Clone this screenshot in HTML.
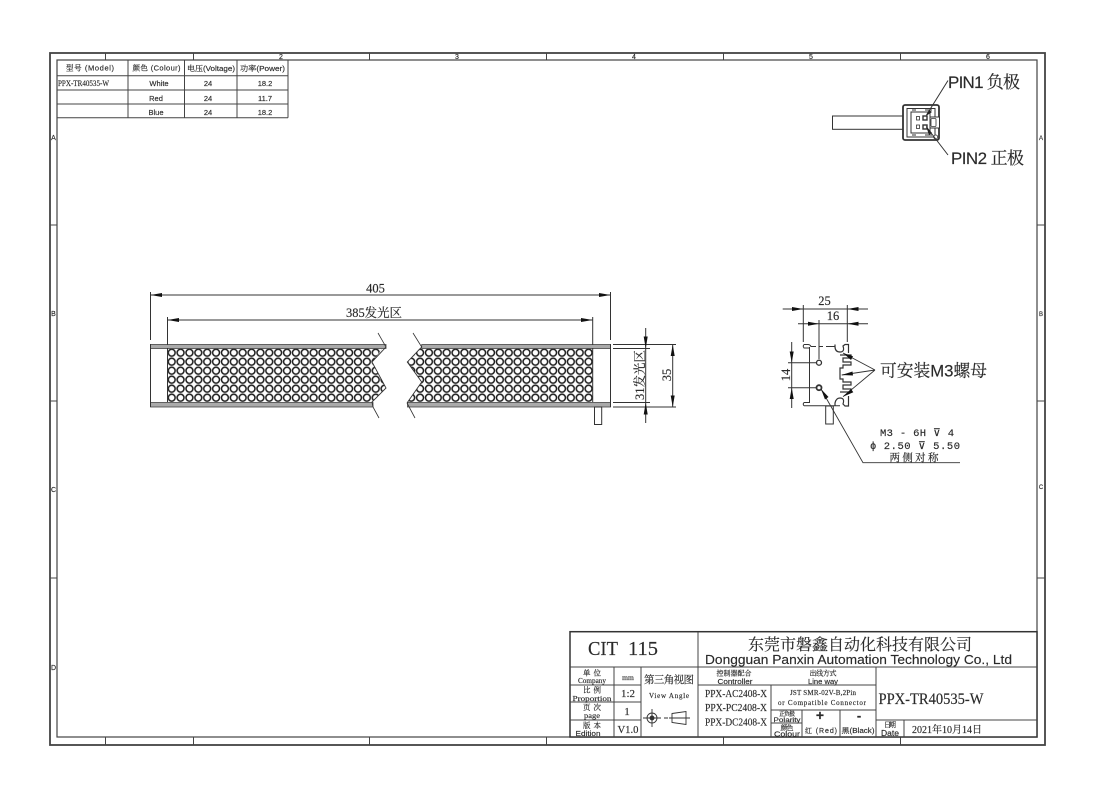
<!DOCTYPE html>
<html><head><meta charset="utf-8"><style>
html,body{margin:0;padding:0;background:#fff;width:1095px;height:799px;overflow:hidden}
svg{display:block;filter:blur(.3px)}
text{fill:#2a2a2a;stroke:#2a2a2a;stroke-width:.15}
.s{font-family:"Liberation Sans","Noto Serif CJK SC",sans-serif}
.f{font-family:"Liberation Serif","Noto Serif CJK SC",serif}
.m{font-family:"Liberation Mono","Noto Serif CJK SC",monospace}
</style></head><body>
<svg width="1095" height="799" viewBox="0 0 1095 799" xmlns="http://www.w3.org/2000/svg">
<defs>
<pattern id="p" x="167.27" y="348.2" width="8.87" height="9" patternUnits="userSpaceOnUse">
<rect width="8.87" height="9" fill="#fff"/>
<circle cx="4.43" cy="4.5" r="3.45" fill="#fff" stroke="#1c1c1c" stroke-width="1.5"/>
</pattern>
</defs>
<rect width="1095" height="799" fill="#fff"/>

<!-- Frame -->
<g fill="none" stroke="#444">
<rect x="50" y="53" width="995" height="692" stroke-width="1.8"/>
<rect x="57" y="60" width="980" height="677" stroke-width="1.2"/>
<path stroke-width="1" d="M105.5 53V60M193.5 53V60M369.5 53V60M546.5 53V60M723.5 53V60M900.5 53V60M105.5 737V745M193.5 737V745M369.5 737V745M546.5 737V745M723.5 737V745M900.5 737V745M50 225H57M50 401H57M50 578H57M1037 225H1045M1037 401H1045M1037 578H1045"/>
</g>
<g class="s" font-size="7" text-anchor="middle">
<text x="281" y="59">2</text><text x="457" y="59">3</text><text x="634" y="59">4</text><text x="811" y="59">5</text><text x="988" y="59">6</text>
<text x="53.5" y="140">A</text><text x="53.5" y="316">B</text><text x="53.5" y="492">C</text><text x="53.5" y="670">D</text>
<text x="1041" y="140" font-size="6">A</text><text x="1041" y="316" font-size="6">B</text><text x="1041" y="489" font-size="6">C</text>
</g>

<!-- Spec table -->
<g fill="none" stroke="#444" stroke-width="1">
<path d="M57 75.7H288M57 90H288M57 104H288M57 117.7H288M128 60V117.7M184.5 60V117.7M237 60V117.7M288 60V117.7"/>
</g>
<g class="s" font-size="7.5" text-anchor="middle">
<text x="90" y="70.5" textLength="48" lengthAdjust="spacing">型号 (Model)</text>
<text x="156.5" y="70.5" textLength="48" lengthAdjust="spacing">颜色 (Colour)</text>
<text x="211" y="71" textLength="48" lengthAdjust="spacingAndGlyphs">电压(Voltage)</text>
<text x="262.5" y="71" textLength="45" lengthAdjust="spacingAndGlyphs">功率(Power)</text>
<text x="159" y="86">White</text><text x="156" y="101">Red</text><text x="156" y="115">Blue</text>
<text x="208" y="86">24</text><text x="208" y="101">24</text><text x="208" y="115">24</text>
<text x="265" y="86">18.2</text><text x="265" y="101">11.7</text><text x="265" y="115">18.2</text>
</g>
<text class="f" x="58" y="86" font-size="8.5" textLength="51" lengthAdjust="spacingAndGlyphs">PPX-TR40535-W</text>

<!-- Connector -->
<g fill="none" stroke="#333">
<rect x="832.5" y="116" width="70.5" height="13.3" stroke-width="1"/>
<rect x="903" y="105" width="36" height="35" rx="2" stroke-width="1.8" fill="#fff"/>
<rect x="907" y="108.5" width="28" height="28.5" stroke-width="1"/>
<rect x="911" y="112" width="19" height="21" stroke-width="1"/>
<rect x="930" y="117" width="9.5" height="11" stroke-width="1" fill="#fff"/>
<rect x="931" y="118.5" width="5" height="8" rx="1" stroke-width=".8"/>
<path stroke-width="1.1" d="M912 110H916M925 110H932M912 135H916M925 135H932"/>
<rect x="916.5" y="116.5" width="3" height="3.5" stroke-width=".8"/>
<rect x="916.5" y="125" width="3" height="3.5" stroke-width=".8"/>
<rect x="923" y="116" width="4" height="4" stroke-width="1.4"/>
<rect x="923" y="125" width="4" height="4" stroke-width="1.4"/>
<circle cx="935.7" cy="137" r="2" stroke-width=".8" fill="#fff"/>
<path stroke-width="1" d="M948 80.5L926.5 115M948 155L926.5 127"/>
</g>
<polygon points="926,116 929,110 932,112" fill="#222"/>
<polygon points="926,126 932,133 929,135" fill="#222"/>
<text class="s" x="948" y="88" font-size="17" textLength="72" lengthAdjust="spacing">PIN1 负极</text>
<text class="s" x="951" y="164" font-size="17" textLength="73" lengthAdjust="spacing">PIN2 正极</text>

<!-- Long bar -->
<polygon points="167.5,348 383,348 372,362 386,388 372,402 167.5,402" fill="url(#p)"/>
<polygon points="592.7,348 420,348 407.3,362 421.7,382 408,402 592.7,402" fill="url(#p)"/>
<g stroke="#444" stroke-width=".8">
<rect x="150.5" y="344.5" width="235.5" height="4" fill="#aaa"/>
<rect x="150.5" y="402.5" width="222.5" height="4.5" fill="#aaa"/>
<rect x="421.7" y="344.5" width="188.8" height="4" fill="#aaa"/>
<rect x="407.5" y="402.5" width="203" height="4.5" fill="#aaa"/>
</g>
<g fill="none" stroke="#333" stroke-width="1">
<path d="M150.5 344V407M610.5 344V407M167.5 348V402M592.7 348V402"/>
<path stroke-width=".9" d="M386 347L372 362L386 388L372 402L373 407"/>
<path stroke-width=".8" d="M378 333L386 347M373 407L379 418"/>
<path stroke-width=".9" d="M421.7 347L407.3 362L421.7 382L407 403"/>
<path stroke-width=".8" d="M413 333L421.7 347M407 403L415 418"/>
<rect x="594.5" y="407" width="7.2" height="17.5"/>
<!-- dims -->
<path d="M150.5 292V340M167.5 317V345M610.5 292V340M592.7 317V345"/>
<path d="M150.5 295H610.5M167.5 320H592.7"/>
<path d="M613 344.5H650M613 348.5H650M613 402.5H650M613 407H676M650 344.5H676"/>
<path d="M672.7 344.5V407M645.7 328V423"/>
</g>
<g fill="#111">
<polygon points="150.5,295 162,293 162,297"/>
<polygon points="610.5,295 599,293 599,297"/>
<polygon points="167.5,320 179,318 179,322"/>
<polygon points="592.7,320 581,318 581,322"/>
<polygon points="672.7,344.5 670.7,356 674.7,356"/>
<polygon points="672.7,407 670.7,395.5 674.7,395.5"/>
<polygon points="645.7,348.5 643.7,336.5 647.7,336.5"/>
<polygon points="645.7,402.5 643.7,414.5 647.7,414.5"/>
</g>
<text class="f" x="375.5" y="292.5" font-size="12.5" text-anchor="middle">405</text>
<text class="f" x="374" y="317" font-size="12.5" text-anchor="middle" textLength="56" lengthAdjust="spacingAndGlyphs">385发光区</text>
<text class="f" font-size="12.5" text-anchor="middle" transform="translate(644,375) rotate(-90)" textLength="50" lengthAdjust="spacingAndGlyphs">31发光区</text>
<text class="f" font-size="12.5" text-anchor="middle" transform="translate(671,375) rotate(-90)">35</text>

<!-- Profile -->
<g fill="none" stroke="#333" stroke-width="1">
<path d="M782.7 309H868M798 323.7H868M803.3 305V342M847.3 305V342M819 320V359"/>
<path d="M791.7 342V408M788 362.7H817M788 387.7H817"/>
<circle cx="819" cy="362.7" r="2.5" stroke-width="1.3"/>
<circle cx="819" cy="387.7" r="2.5" stroke-width="1.8"/>
<path d="M809.5 347V403M804 344.5H808Q810 344.5 811 346.5H816M819 346.5H823M826 346.5H835M804 344.5Q802.5 346 804 348H809.5M804 405.8H840M804 402.5Q802.5 404 804 405.8M804 402.5H809.5"/>
<path stroke-width="1.2" d="M835 344.5V346.5Q835 352 840 352Q845 352 843 346L845 344.5H848.5V353M835 406V403Q836 398 840 398Q845 398 843 404L845 406H848.5V396"/>
<path stroke-width="1.2" d="M840 355H851V358H843V362H851V365H843V368H840V379H843V382H851V385H843V389H851V392H840"/>
<rect x="825.7" y="406" width="7.6" height="18"/>
<path stroke-width=".9" d="M875 370L843 353M875 370L841.7 375M875 370L843 396.7M821 389L863 462.7H960"/>
</g>
<g fill="#111">
<polygon points="803.3,309 792,307 792,311"/>
<polygon points="847.3,309 858.5,307 858.5,311"/>
<polygon points="819,323.7 808,321.7 808,325.7"/>
<polygon points="847.3,323.7 858.5,321.7 858.5,325.7"/>
<polygon points="791.7,362.7 789.7,351.5 793.7,351.5"/>
<polygon points="791.7,387.7 789.7,399 793.7,399"/>
<polygon points="843,353 853,356.3 851,360"/>
<polygon points="841.7,375 852.5,371.5 853,375.5"/>
<polygon points="843,396.7 851,389 853.3,392.3"/>
<polygon points="821,389 828.5,397 825,399.5"/>
</g>
<text class="f" x="824.5" y="305" font-size="12.5" text-anchor="middle">25</text>
<text class="f" x="833" y="320" font-size="12.5" text-anchor="middle">16</text>
<text class="f" font-size="12.5" text-anchor="middle" transform="translate(790,375) rotate(-90)">14</text>
<text class="s" x="880" y="376.5" font-size="17" textLength="107" lengthAdjust="spacingAndGlyphs">可安装M3螺母</text>
<g class="m" font-size="10.5" text-anchor="middle">
<text x="917" y="436" textLength="74" lengthAdjust="spacing" xml:space="preserve">M3 - 6H ⊽ 4</text>
<text x="915" y="449" textLength="90" lengthAdjust="spacing" xml:space="preserve">ϕ 2.50 ⊽ 5.50</text>
<text class="f" x="914" y="461" textLength="49" lengthAdjust="spacing">两侧对称</text>
</g>

<!-- Title block -->
<rect x="570" y="631.7" width="467" height="105.3" fill="#fff" stroke="#333" stroke-width="1.5"/>
<g fill="none" stroke="#444" stroke-width="1">
<path d="M698 632V737M570 667H1037M570 685H641M698 685H876M570 702H641M570 720H641M771 710H876M771 685V737M876 667V737M876 720H1037M904 720V737M802 710V737M840 710V737M614 667V737M641 667V737M771 723H802"/>
</g>
<text class="f" x="588" y="655" font-size="20" textLength="30" lengthAdjust="spacingAndGlyphs">CIT</text>
<text class="f" x="628" y="655" font-size="20" textLength="30" lengthAdjust="spacingAndGlyphs">115</text>
<text class="f" x="748" y="650" font-size="16" textLength="224">东莞市磐鑫自动化科技有限公司</text>
<text class="s" x="705" y="664" font-size="13" textLength="307" lengthAdjust="spacingAndGlyphs">Dongguan Panxin Automation Technology Co., Ltd</text>
<g class="f" font-size="7.5" text-anchor="middle">
<text x="592" y="675.5" textLength="18" lengthAdjust="spacing" xml:space="preserve">单 位</text>
<text x="592" y="683" textLength="28" lengthAdjust="spacingAndGlyphs">Company</text>
<text x="592" y="692.5" textLength="18" lengthAdjust="spacing" xml:space="preserve">比 例</text>
<text x="592" y="701" textLength="39" lengthAdjust="spacingAndGlyphs">Proportion</text>
<text x="592" y="710" textLength="18" lengthAdjust="spacing" xml:space="preserve">页 次</text>
<text x="592" y="718" textLength="16" lengthAdjust="spacingAndGlyphs">page</text>
<text x="592" y="728" textLength="18" lengthAdjust="spacing" xml:space="preserve">版 本</text>
<text class="s" x="588" y="736" textLength="25" lengthAdjust="spacingAndGlyphs">Edition</text>
<text x="628" y="680">mm</text>
</g>
<g class="f" font-size="11" text-anchor="middle">
<text x="628" y="697">1:2</text>
<text x="627" y="715">1</text>
<text x="628" y="733" textLength="21" lengthAdjust="spacingAndGlyphs">V1.0</text>
<text x="669" y="683" font-size="10.5" textLength="50">第三角视图</text>
</g>
<text class="f" x="669" y="698" font-size="7" text-anchor="middle" textLength="40" lengthAdjust="spacing">View Angle</text>
<g fill="none" stroke="#333" stroke-width=".9">
<circle cx="652" cy="718" r="5"/><circle cx="652" cy="718" r="2" fill="#333"/>
<path d="M652 709V727M643 718H661M664 718H668M672 713.5L686 711.5V724.5L672 722.5ZM669 718H690"/>
</g>
<g class="f" font-size="7" text-anchor="middle">
<text x="734" y="675.5" textLength="35">控制器配合</text>
<text class="s" x="735" y="684" textLength="35" lengthAdjust="spacingAndGlyphs">Controller</text>
<text x="823" y="675.5" textLength="27">出线方式</text>
<text class="s" x="823" y="684" textLength="30" lengthAdjust="spacingAndGlyphs">Line way</text>
<text x="823" y="695" textLength="66" lengthAdjust="spacing">JST SMR-02V-B,2Pin</text>
<text x="822" y="705" textLength="88" lengthAdjust="spacing">or Compatible Connector</text>
<text x="787" y="716" font-size="6" textLength="16">正负极</text>
<text class="s" x="787" y="722" textLength="27" lengthAdjust="spacingAndGlyphs" font-size="6.5">Polarity</text>
<text x="787" y="730" textLength="13">颜色</text>
<text class="s" x="787" y="736.3" textLength="26" lengthAdjust="spacingAndGlyphs" font-size="7">Colour</text>
<text class="s" x="821" y="733" textLength="32" lengthAdjust="spacing">红 (Red)</text>
<text class="s" x="858" y="733" textLength="33" lengthAdjust="spacingAndGlyphs">黑(Black)</text>
<text x="890" y="727" textLength="12">日期</text>
<text class="s" x="890" y="736" textLength="18" lengthAdjust="spacingAndGlyphs" font-size="8">Date</text>
</g>
<g class="f" font-size="11" text-anchor="middle">
<text x="736" y="697" textLength="62" lengthAdjust="spacingAndGlyphs">PPX-AC2408-X</text>
<text x="736" y="711" textLength="62" lengthAdjust="spacingAndGlyphs">PPX-PC2408-X</text>
<text x="736" y="725.5" textLength="62" lengthAdjust="spacingAndGlyphs">PPX-DC2408-X</text>
</g>
<text class="s" x="820" y="720" font-size="14" font-weight="bold" text-anchor="middle">+</text>
<text class="s" x="859" y="720" font-size="13" font-weight="bold" text-anchor="middle">-</text>
<text class="f" x="878.5" y="704" font-size="16" textLength="105" lengthAdjust="spacingAndGlyphs">PPX-TR40535-W</text>
<text class="f" x="912" y="733" font-size="10" textLength="70">2021年10月14日</text>
</svg>
</body></html>
